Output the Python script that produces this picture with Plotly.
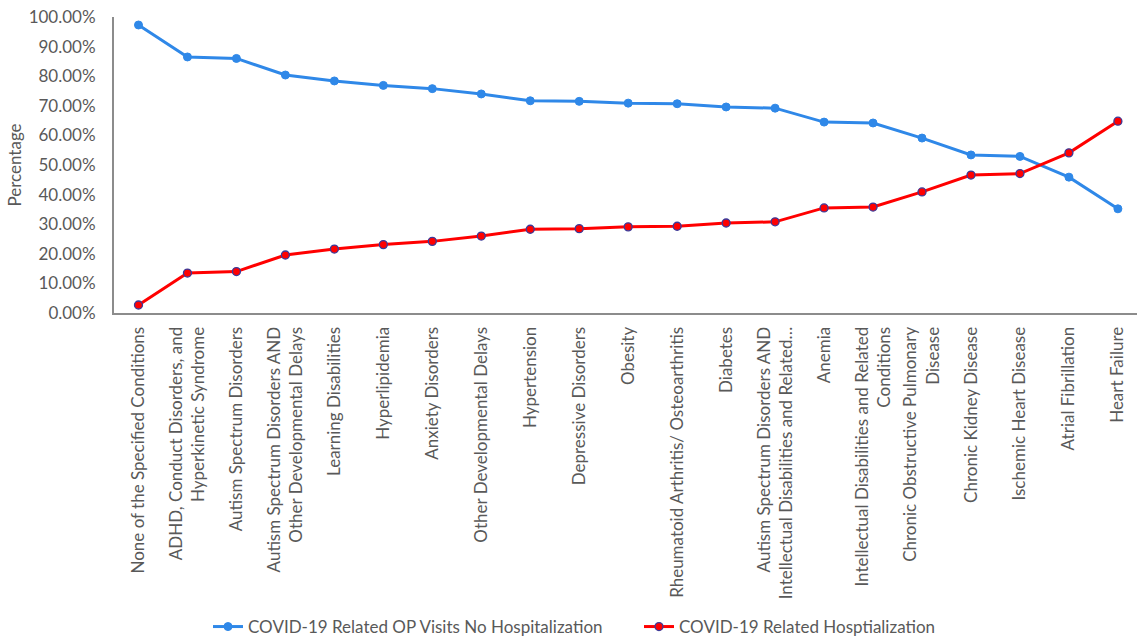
import plotly.graph_objects as go

conditions = [
    "None of the Specified Conditions",
    "ADHD, Conduct Disorders, and<br>Hyperkinetic Syndrome",
    "Autism Spectrum Disorders",
    "Autism Spectrum Disorders AND<br>Other Developmental Delays",
    "Learning Disabilities",
    "Hyperlipidemia",
    "Anxiety Disorders",
    "Other Developmental Delays",
    "Hypertension",
    "Depressive Disorders",
    "Obesity",
    "Rheumatoid Arthritis/ Osteoarthritis",
    "Diabetes",
    "Autism Spectrum Disorders AND<br>Intellectual Disabilities and Related…",
    "Anemia",
    "Intellectual Disabilities and Related<br>Conditions",
    "Chronic Obstructive Pulmonary<br>Disease",
    "Chronic Kidney Disease",
    "Ischemic Heart Disease",
    "Atrial Fibrillation",
    "Heart Failure",
]

op_visits_pct = [97.3, 86.5, 86.0, 80.4, 78.4, 76.9, 75.8, 74.0, 71.7, 71.5,
                 70.9, 70.7, 69.6, 69.2, 64.5, 64.2, 59.1, 53.4, 52.9, 45.9, 35.2]
hospitalization_pct = [2.7, 13.5, 14.0, 19.6, 21.6, 23.1, 24.2, 26.0, 28.3, 28.5,
                       29.1, 29.3, 30.4, 30.8, 35.5, 35.8, 40.9, 46.6, 47.1, 54.1, 64.8]

series_names = ["COVID-19 Related OP Visits No Hospitalization",
                "COVID-19 Related Hosptialization"]

FONT = "Lato"
GREY = "#595959"
BLUE = "#2F88E8"
RED = "#FF0000"
FS = 17

fig = go.Figure()
fig.add_trace(go.Scatter(
    x=conditions, y=[v / 100 for v in op_visits_pct], name=series_names[0],
    mode="lines+markers", legend="legend",
    line=dict(color=BLUE, width=3),
    marker=dict(color=BLUE, size=8, line=dict(color=BLUE, width=1)),
))
fig.add_trace(go.Scatter(
    x=conditions, y=[v / 100 for v in hospitalization_pct], name=series_names[1],
    mode="lines+markers", legend="legend2",
    line=dict(color=RED, width=3),
    marker=dict(color=RED, size=8, line=dict(color="#3A3A9A", width=1.3)),
))

# one legend box per series so each entry can sit at its own spot
legend_common = dict(orientation="h", xref="container", yref="container",
                     xanchor="left", y=1 - 627 / 642, yanchor="middle",
                     font=dict(size=FS, color=GREY, family=FONT),
                     itemwidth=30, bgcolor="rgba(0,0,0,0)")

fig.update_layout(
    width=1137, height=642,
    margin=dict(l=114, r=0, t=17, b=329),
    paper_bgcolor="white", plot_bgcolor="white",
    font=dict(family=FONT, color=GREY, size=FS),
    showlegend=True,
    legend=dict(x=208 / 1137, **legend_common),
    legend2=dict(x=639 / 1137, **legend_common),
)
fig.update_xaxes(
    type="category", range=[-0.5, 20.39], tickangle=-90,
    showline=True, linecolor="#8C8C8C", linewidth=2,
    showgrid=False, ticks="", automargin=False, ticklabelstandoff=5,
    tickfont=dict(family=FONT, size=FS, color=GREY),
)
fig.update_yaxes(
    range=[0, 1], dtick=0.1, tickformat=".2%",
    showline=True, linecolor="#8C8C8C", linewidth=2,
    showgrid=False, ticks="", zeroline=False, automargin=False,
    ticklabelstandoff=13,
    title=dict(text="Percentage", font=dict(family=FONT, size=FS, color=GREY), standoff=3),
    tickfont=dict(family=FONT, size=FS, color=GREY),
)

fig.write_html("out.html")
